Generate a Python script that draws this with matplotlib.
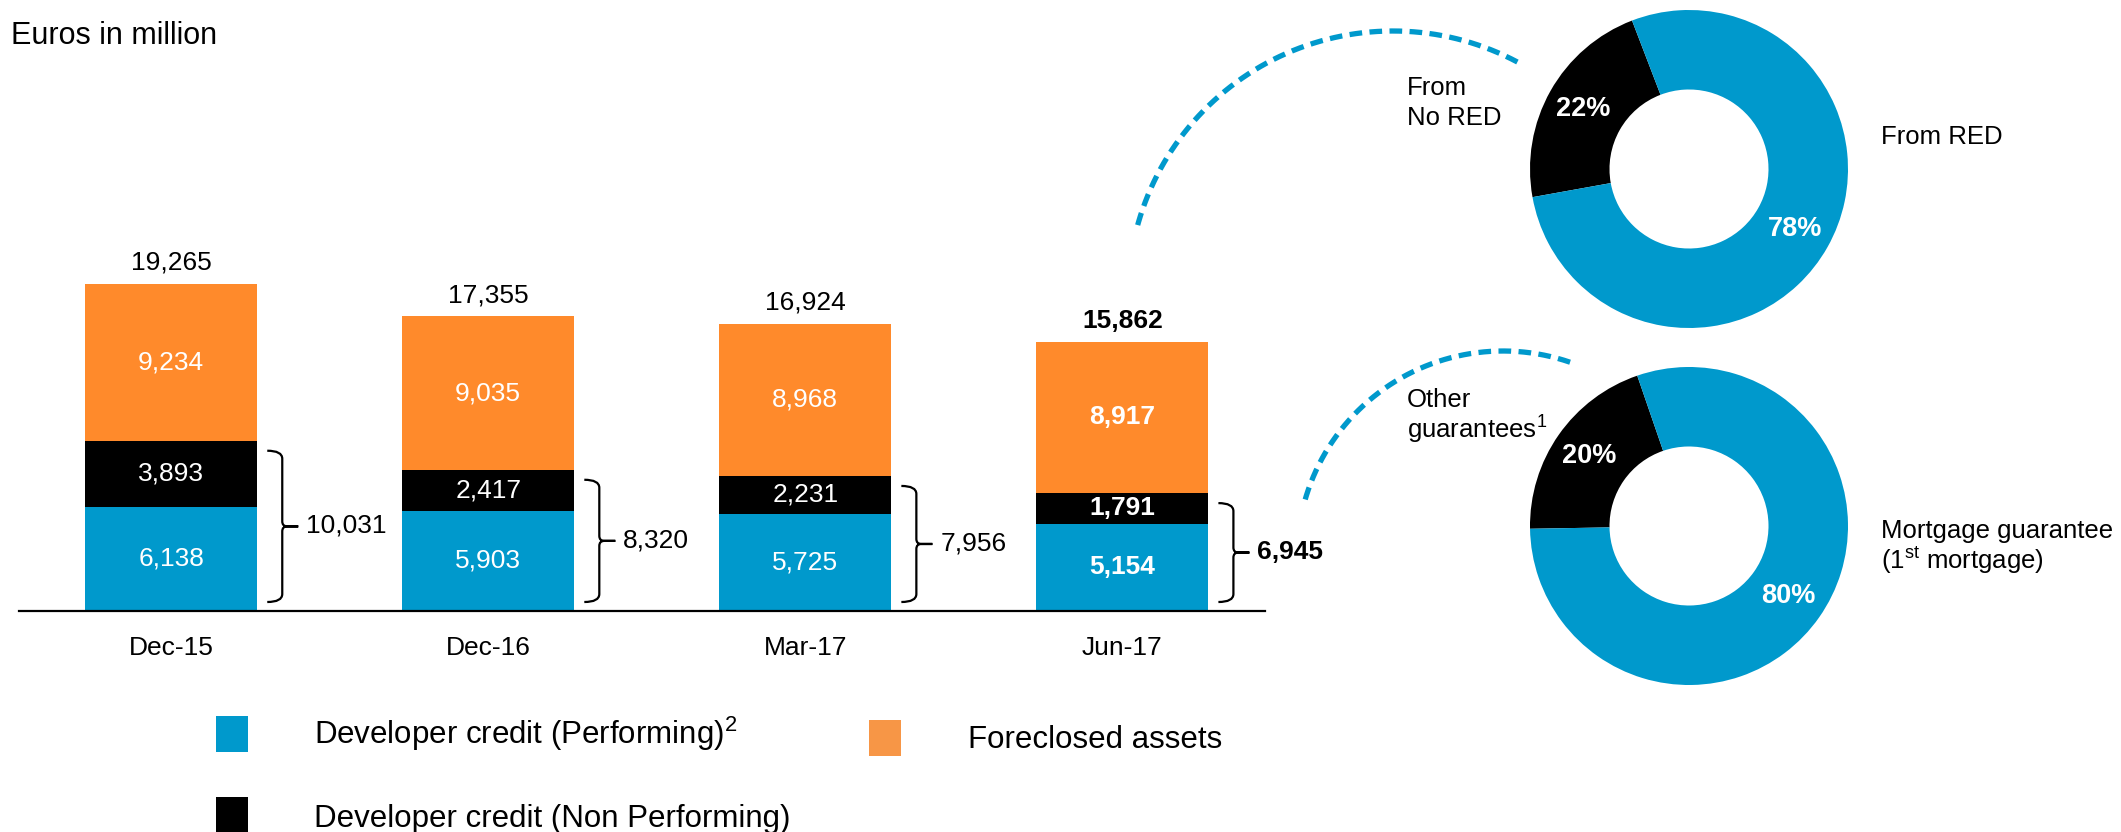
import matplotlib
matplotlib.use("Agg")
import matplotlib.pyplot as plt
import numpy as np
from matplotlib.path import Path
from matplotlib.patches import PathPatch, Rectangle
from matplotlib.transforms import IdentityTransform

plt.rcParams["font.family"] = "Liberation Sans"
plt.rcParams["mathtext.fontset"] = "custom"
plt.rcParams["mathtext.rm"] = "Liberation Sans"

# Developer exposure, euros in million
categories = ["Dec-15", "Dec-16", "Mar-17", "Jun-17"]
performing = [6138, 5903, 5725, 5154]
non_performing = [3893, 2417, 2231, 1791]
foreclosed = [9234, 9035, 8968, 8917]
totals = [19265, 17355, 16924, 15862]

# Breakdown of the Jun-17 developer credit
origin_labels = ["From\nNo RED", "From RED"]
origin_split = [22, 78]
guarantee_labels = ["Other\nguarantees$^{\\mathregular{1}}$",
                    "Mortgage guarantee\n(1$^{\\mathregular{st}}$ mortgage)"]
guarantee_split = [20, 80]

BLUE = "#0099CC"
ORANGE = "#FF8A2B"
ORANGE_LEGEND = "#F79646"

W, H = 2121, 832
fig = plt.figure(figsize=(W / 100, H / 100), dpi=100)

# full-figure overlay in pixel units for connectors and free text
ov = fig.add_axes([0, 0, 1, 1])
ov.set_xlim(0, W)
ov.set_ylim(H, 0)
ov.axis("off")

ax = fig.add_axes([19 / W, (H - 611) / H, 1246 / W, 407.4 / H])
ax.patch.set_visible(False)
ax.set_xlim(-0.48, 3.45)
ax.set_ylim(0, 24000)

x = np.arange(len(categories))
width = 0.543
perf = np.array(performing)
npl = np.array(non_performing)
credit = perf + npl

ax.bar(x, perf, width, color=BLUE)
ax.bar(x, npl, width, bottom=perf, color="black")
ax.bar(x, foreclosed, width, bottom=credit, color=ORANGE)

for i in range(len(categories)):
    weight = "bold" if i == len(categories) - 1 else "normal"
    for bottom, val in [(0, perf[i]), (perf[i], npl[i]), (credit[i], foreclosed[i])]:
        ax.text(x[i], bottom + val / 2, f"{val:,}", ha="center", va="center",
                color="white", fontsize=19, fontweight=weight)
    ax.annotate(f"{totals[i]:,}", (x[i], totals[i]), xytext=(0, 14),
                textcoords="offset pixels", ha="center", va="baseline",
                fontsize=19, fontweight=weight)

for s in ["top", "left", "right"]:
    ax.spines[s].set_visible(False)
ax.spines["bottom"].set_linewidth(1.6)
ax.set_yticks([])
ax.set_xticks(x, categories)
ax.tick_params(axis="x", length=0, pad=18, labelsize=19)


def draw_brace(ax, xr, top):
    # curly bracket to the right of a bar, drawn in display pixels
    x0, yb = ax.transData.transform((xr, 0))
    _, yt = ax.transData.transform((xr, top))
    yt -= 10
    yb += 9
    ym = (yt + yb) / 2
    xa, xv, xt = x0 + 10, x0 + 25, x0 + 41
    r, rm = 8, 5
    verts = [(xa, yt), (xv, yt), (xv, yt - r), (xv, ym + rm), (xv, ym), (xv + rm, ym),
             (xt, ym), (xv + rm, ym), (xv, ym), (xv, ym - rm), (xv, yb + r),
             (xv, yb), (xa, yb)]
    codes = [Path.MOVETO, Path.CURVE3, Path.CURVE3, Path.LINETO, Path.CURVE3, Path.CURVE3,
             Path.LINETO, Path.LINETO, Path.CURVE3, Path.CURVE3, Path.LINETO,
             Path.CURVE3, Path.CURVE3]
    ax.add_patch(PathPatch(Path(verts, codes), fill=False, lw=1.6, color="black",
                           transform=IdentityTransform(), clip_on=False))


for i in range(len(categories)):
    xr = x[i] + width / 2
    draw_brace(ax, xr, credit[i])
    weight = "bold" if i == len(categories) - 1 else "normal"
    ax.annotate(f"{credit[i]:,}", (xr, credit[i] / 2), xytext=(49, 0),
                textcoords="offset pixels", ha="left", va="center",
                fontsize=19, fontweight=weight)

# donuts
pie_kw = dict(colors=["black", BLUE], counterclock=True,
              wedgeprops=dict(width=0.5, linewidth=0),
              autopct="%.0f%%", pctdistance=0.765,
              textprops=dict(color="white", fontsize=19.5, fontweight="bold"))
d1 = fig.add_axes([1530 / W, (H - 328) / H, 318 / W, 318 / H])
d1.pie(origin_split, startangle=111, **pie_kw)
d2 = fig.add_axes([1530 / W, (H - 685) / H, 318 / W, 318 / H])
d2.pie(guarantee_split, startangle=109, **pie_kw)
for d in (d1, d2):
    d.set_xlim(-1, 1)
    d.set_ylim(-1, 1)

# dashed connectors
for cx, cy, rad, a0, a1 in [(1393, 296, 265, 62, 166), (1503, 557, 206, 71, 164)]:
    t = np.radians(np.linspace(a0, a1, 200))
    ov.plot(cx + rad * np.cos(t), cy - rad * np.sin(t), color=BLUE, lw=3.8,
            linestyle=(0, (2.4, 1.4)), solid_capstyle="butt", dash_capstyle="butt")

fs = 18.5
ov.text(1407, 125, origin_labels[0], fontsize=fs, va="baseline", linespacing=1.3)
ov.text(1881, 144, origin_labels[1], fontsize=fs, va="baseline")
ov.text(1407, 438, guarantee_labels[0], fontsize=fs, va="baseline", linespacing=1.02)
ov.text(1881, 569, guarantee_labels[1], fontsize=fs, va="baseline", linespacing=1.05)

ov.text(11, 44, "Euros in million", fontsize=22, va="baseline")

# legend
legend_items = [
    (216, 716, BLUE, 314, 744, r"Developer credit (Performing)$^{\mathregular{2}}$"),
    (869, 720, ORANGE_LEGEND, 968, 748, "Foreclosed assets"),
    (216, 797, "black", 314, 827, "Developer credit (Non Performing)"),
]
for rx, ry, col, tx, ty, label in legend_items:
    ov.add_patch(Rectangle((rx, ry), 32, 36, color=col, lw=0))
    ov.text(tx, ty, label, fontsize=22.5, va="baseline")

fig.savefig("out.png", dpi=100)
